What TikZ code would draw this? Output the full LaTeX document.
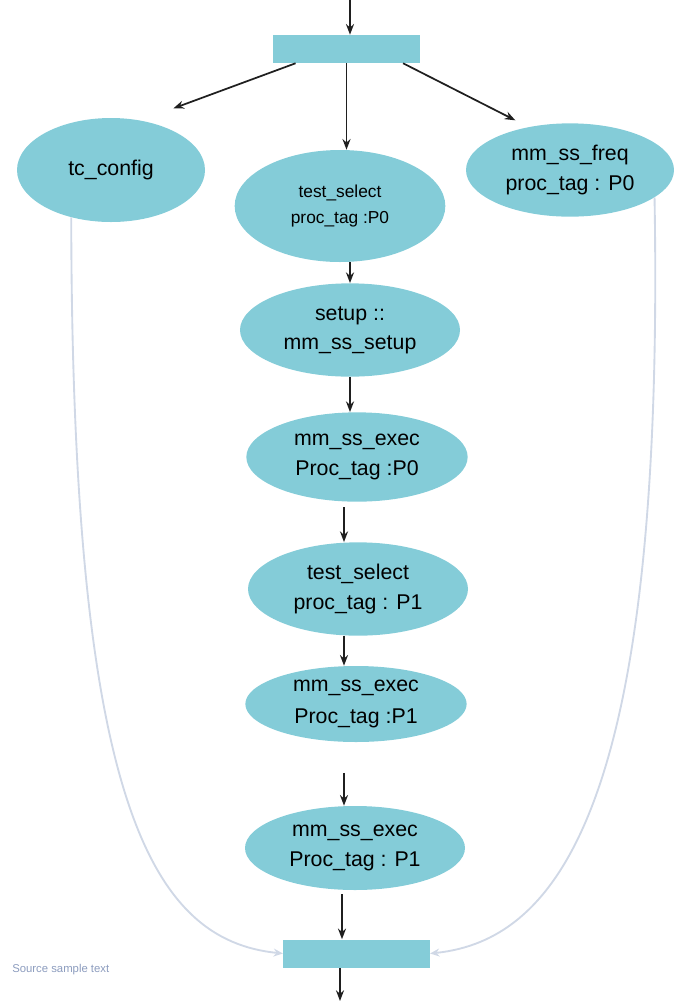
\documentclass[tikz,border=0pt]{standalone}
\usepackage{fontspec}
\setmainfont{Liberation Sans}
\usepackage{tikz}
\usetikzlibrary{positioning,arrows.meta,calc,shapes.geometric}
\definecolor{flowteal}{RGB}{132,204,216}
\definecolor{flowgray}{RGB}{208,216,230}
\definecolor{srcgray}{RGB}{140,156,190}
\tikzset{
  stage/.style={ellipse, fill=flowteal, inner sep=0pt, align=center,
                font=\fontsize{16}{22}\selectfont},
  smallstage/.style={stage, font=\fontsize{13}{19}\selectfont},
  bar/.style={rectangle, fill=flowteal, inner sep=0pt, minimum width=110pt, minimum height=21pt},
  flow/.style={-{Stealth[length=8pt,width=6pt]}, line width=1.3pt, black!88},
  back/.style={-{Stealth[length=7pt,width=6pt]}, line width=1.4pt, flowgray},
  note/.style={font=\fontsize{8.5}{10}\selectfont, text=srcgray, anchor=west, inner sep=0pt}
}

\begin{document}
\begin{tikzpicture}[x=0.75pt, y=-0.75pt]
        \useasboundingbox (0,0) rectangle (674,1001);
        \node[bar] (top) at (346.5,49) {};
        \node[stage, minimum width=141pt, minimum height=78pt] (tc) at (111,170) {tc\_config};
        \node[smallstage, minimum width=158pt, minimum height=84pt] (sel0) at (340,206) {test\_select\\proc\_tag :P0};
        \node[stage, minimum width=156pt, minimum height=70pt] (freq) at (570,170) {mm\_ss\_freq\\proc\_tag : P0};
        \node[stage, minimum width=165pt, minimum height=70pt] (setup) at (350,330) {setup ::\\mm\_ss\_setup};
        \node[stage, minimum width=166pt, minimum height=67pt] (exec0) at (357,457) {mm\_ss\_exec\\Proc\_tag :P0};
        \node[stage, minimum width=165pt, minimum height=70pt] (sel1) at (358,589) {test\_select\\proc\_tag : P1};
        \node[stage, minimum width=166pt, minimum height=57pt, font=\fontsize{16}{24}\selectfont] (exec1) at (356,704) {mm\_ss\_exec\\Proc\_tag :P1};
        \node[stage, minimum width=165pt, minimum height=63pt] (exec2) at (355,848) {mm\_ss\_exec\\Proc\_tag : P1};
        \node[bar] (bot) at (356.5,953.5) {};
        \node[note] (src) at (12,970) {Source sample text};
        \coordinate (entry) at (350,0);
        \coordinate (exit) at (340,1001);
        % main spine
        \draw[flow] (entry) -- (entry |- top.north);
        \draw[flow, shorten >=26pt] ([xshift=17pt]top.south west) -- (tc.59);
        \draw[flow] (top.south) -- (top.south |- sel0.north);
        \draw[flow, shorten >=11pt] ([xshift=-12.75pt]top.south east) -- (freq.134);
        \draw[flow] (sel0.south -| setup.north) -- (setup.north);
        \draw[flow] (setup.south) -- (setup.south |- exec0.north);
        \draw[flow, shorten <=4pt] ([xshift=-9.75pt]exec0.south) -- ([xshift=-9.75pt]exec0.south |- sel1.north);
        \draw[flow] ([xshift=-10.5pt]sel1.south) -- ([xshift=-10.5pt]sel1.south |- exec1.north);
        \draw[flow, shorten <=23pt] ([xshift=-9pt]exec1.south) -- ([xshift=-9pt]exec1.south |- exec2.north);
        \draw[flow, shorten <=3pt] ([xshift=-9.75pt]exec2.south) -- ([xshift=-9.75pt]exec2.south |- bot.north);
        \draw[flow] (bot.south -| exit) -- (exit);
        % side branches back into the bottom bar
        \draw[back] (tc.230) .. controls (72,800) and (150,940) .. (bot.west);
        \draw[back] (freq.342) .. controls (665,800) and (560,940) .. (bot.east);
      \end{tikzpicture}
\end{document}
